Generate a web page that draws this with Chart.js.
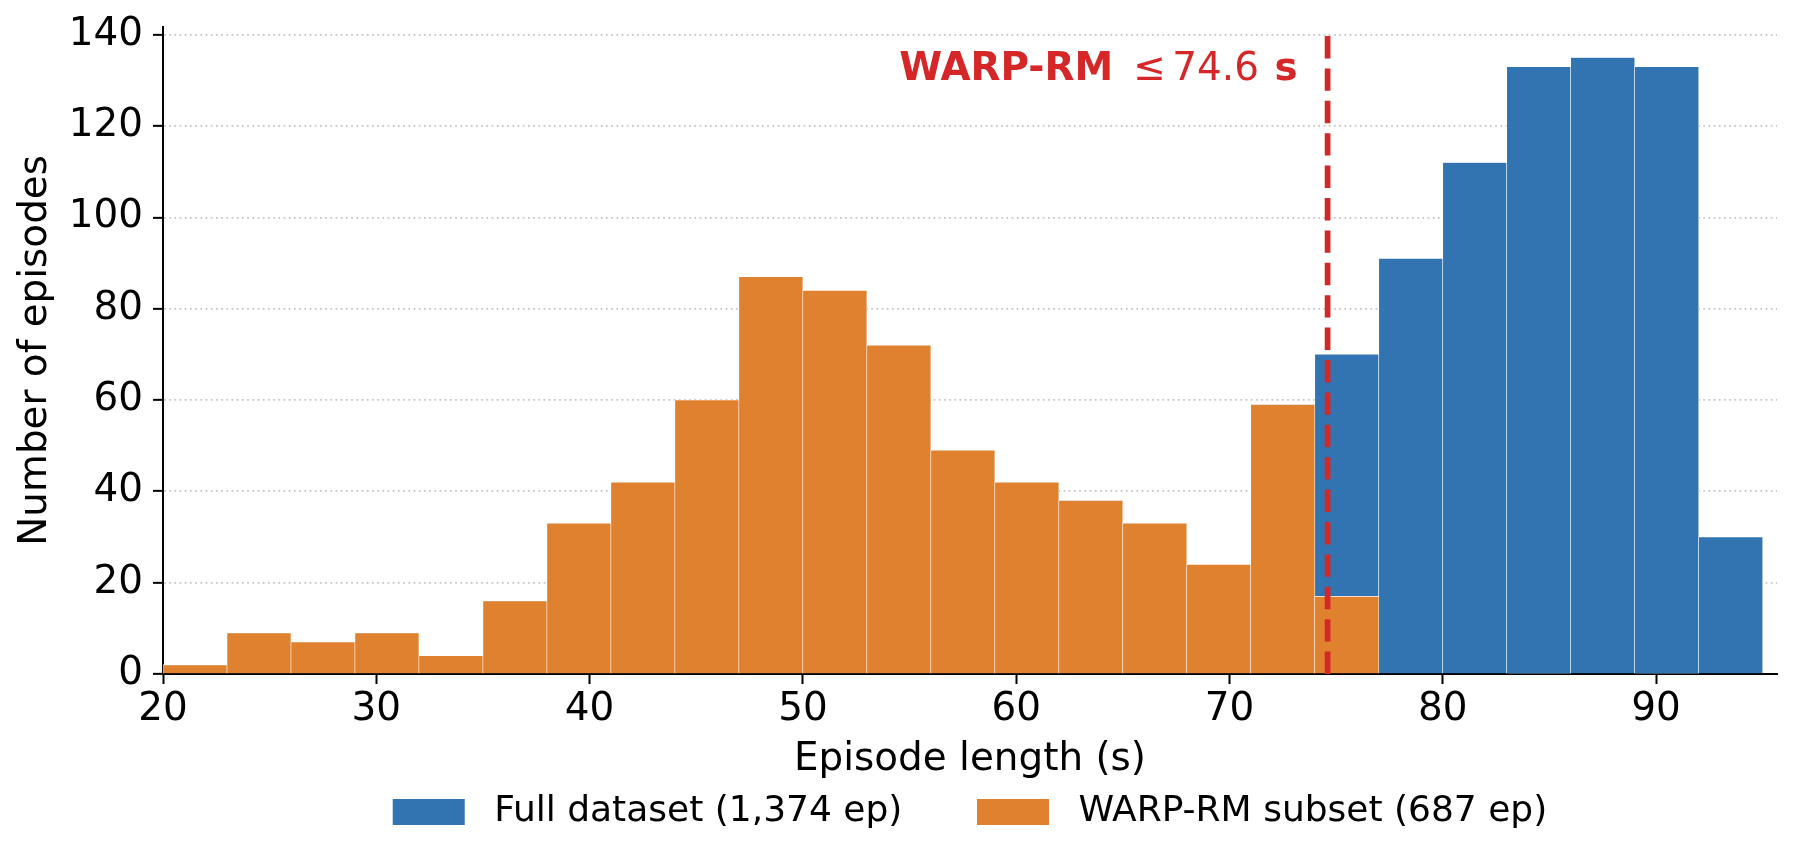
<!DOCTYPE html>
<html>
<head>
<meta charset="utf-8">
<script src="https://cdn.jsdelivr.net/npm/chart.js@4.4.1/dist/chart.umd.min.js"></script>
<style>
  html, body { margin: 0; padding: 0; background: #fff; }
  #wrap { width: 1796px; height: 866px; position: relative; }
</style>
</head>
<body>
<div id="wrap"><canvas id="histChart"></canvas></div>
<script>
// Histogram bins (3 s wide, from 20 s to 95 s) - centre of each bin
const binCenters = [21.5, 24.5, 27.5, 30.5, 33.5, 36.5, 39.5, 42.5, 45.5, 48.5, 51.5, 54.5, 57.5,
                    60.5, 63.5, 66.5, 69.5, 72.5, 75.5, 78.5, 81.5, 84.5, 87.5, 90.5, 93.5];
// Episode counts per bin
const fullCounts   = [2, 9, 7, 9, 4, 16, 33, 42, 60, 87, 84, 72, 49, 42, 38, 33, 24, 59, 70, 91, 112, 133, 135, 133, 30];
const subsetCounts = [2, 9, 7, 9, 4, 16, 33, 42, 60, 87, 84, 72, 49, 42, 38, 33, 24, 59, 17, 0, 0, 0, 0, 0, 0];
const seriesNames  = ['Full dataset (1,374 ep)', 'WARP-RM subset (687 ep)'];
const xTicks = [20, 30, 40, 50, 60, 70, 80, 90];
const yTicks = [0, 20, 40, 60, 80, 100, 120, 140];
const threshold = 74.6;

const FONT = 'DejaVu Sans';
const RED = '#d62728';

// dashed threshold line + label
const thresholdLine = {
    id: 'thresholdLine',
    afterDatasetsDraw(chart) {
        const { ctx, chartArea, scales: { x, y } } = chart;
        const px = x.getPixelForValue(threshold);
        ctx.save();
        ctx.strokeStyle = RED;
        ctx.lineWidth = 5.7;
        ctx.setLineDash([22.4, 10]);
        ctx.beginPath();
        ctx.moveTo(px, chartArea.bottom);
        ctx.lineTo(px, chartArea.top);
        ctx.stroke();
        ctx.setLineDash([]);

        // label "WARP-RM ≤ 74.6 s", right aligned left of the line
        const bold = 'bold 38.9px "' + FONT + '"';
        const normal = '38.9px "' + FONT + '"';
        const baseY = y.getPixelForValue(130);
        let right = px - 30;
        ctx.fillStyle = RED;
        ctx.textBaseline = 'alphabetic';
        ctx.textAlign = 'right';
        ctx.font = bold;
        ctx.fillText('s', right, baseY);
        right -= ctx.measureText('s').width + 15.5;
        ctx.font = normal;
        ctx.fillText('74.6', right, baseY);
        right -= ctx.measureText('74.6').width + 6.6;
        ctx.fillText('\u2264', right, baseY);
        right -= ctx.measureText('\u2264').width + 20;
        ctx.font = bold;
        ctx.fillText('WARP-RM', right, baseY);
        ctx.restore();
    }
};

const data = {
    datasets: [{
        label: seriesNames[0],
        data: binCenters.map((c, i) => ({ x: c, y: fullCounts[i] })),
        backgroundColor: '#3274b1',
        borderColor: '#ffffff',
        borderWidth: 0.6,
        grouped: false,
        order: 1
    }, {
        label: seriesNames[1],
        data: binCenters.map((c, i) => ({ x: c, y: subsetCounts[i] })),
        backgroundColor: '#e0812f',
        borderColor: '#ffffff',
        borderWidth: 0.6,
        grouped: false,
        order: 0
    }]
};

const options = {
    responsive: true,
    maintainAspectRatio: false,
    animation: false,
    layout: { padding: { left: 0, right: 19, top: 26.7, bottom: 26 } },
    datasets: { bar: { barPercentage: 1, categoryPercentage: 1 } },
    scales: {
        x: {
            type: 'linear',
            min: 20,
            max: 95.67,
            offset: false,
            afterFit: (s) => { s.height = 114; },
            afterBuildTicks: (s) => { s.ticks = xTicks.map(v => ({ value: v })); },
            ticks: {
                autoSkip: false, maxRotation: 0, padding: 3,
                color: '#000', font: { family: FONT, size: 38.9 }
            },
            grid: {
                offset: false, drawOnChartArea: false, drawTicks: true,
                tickLength: 10, tickWidth: 2, tickColor: '#000'
            },
            border: { display: true, color: '#000', width: 2 },
            title: {
                display: true, text: 'Episode length (s)', color: '#000',
                font: { family: FONT, size: 38.9 }, padding: { top: 0, bottom: 5 }
            }
        },
        y: {
            min: 0,
            max: 141.75,
            afterFit: (s) => { s.width = 163; s.paddingTop = 0; s.paddingBottom = 0; },
            afterBuildTicks: (s) => { s.ticks = yTicks.map(v => ({ value: v })); },
            ticks: {
                padding: 10, color: '#000', font: { family: FONT, size: 38.9 }
            },
            grid: {
                color: '#c4c4c4', lineWidth: 1.7,
                drawTicks: true, tickLength: 10, tickWidth: 2, tickColor: '#000',
                tickBorderDash: []
            },
            border: { display: true, color: '#000', width: 2, dash: [1.7, 3.5] },
            title: {
                display: true, text: 'Number of episodes', color: '#000',
                font: { family: FONT, size: 38.9 }, padding: { top: 13, bottom: 0 }
            }
        }
    },
    plugins: {
        legend: {
            position: 'bottom',
            fullSize: false,
            labels: {
                boxWidth: 72,
                boxHeight: 26,
                padding: 6,
                color: '#000',
                font: { family: FONT, size: 36 },
                generateLabels(chart) {
                    const items = Chart.defaults.plugins.legend.labels.generateLabels(chart);
                    items.sort((a, b) => a.datasetIndex - b.datasetIndex);
                    return items.map((it, i) => ({
                        ...it,
                        text: ' ' + it.text + (i === 0 ? '      ' : ''),
                        lineWidth: 0
                    }));
                }
            }
        },
        tooltip: { enabled: false }
    }
};

const ctx = document.getElementById('histChart').getContext('2d');
const histChart = new Chart(ctx, {
    type: 'bar',
    data: data,
    options: options,
    plugins: [thresholdLine]
});
</script>
</body>
</html>
